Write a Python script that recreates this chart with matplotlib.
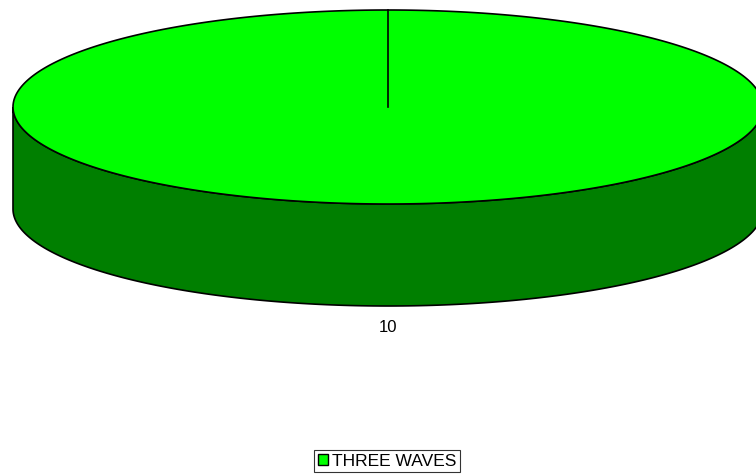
import numpy as np
import matplotlib
matplotlib.use('Agg')
import matplotlib.pyplot as plt
import matplotlib.patches as mpatches

labels = ['THREE WAVES']
values = [10]
top_colors = ['#00ff00']
side_colors = ['#007f00']

plt.rcParams['font.family'] = ['Liberation Sans', 'DejaVu Sans']

fig = plt.figure(figsize=(7.56, 4.74), dpi=100)
ax = fig.add_axes([0, 0, 1, 1])
ax.set_xlim(0, 756)
ax.set_ylim(474, 0)
ax.axis('off')

# pie geometry in pixels
cx, cy = 388, 107
rx, ry = 375, 97
depth = 102

total = float(sum(values))
start = 90.0
for val, lab, ctop, cside in zip(values, labels, top_colors, side_colors):
    sweep = 360.0 * val / total
    # side wall (front half only is visible)
    t = np.linspace(0, np.pi, 200)
    xs = cx + rx * np.cos(t)
    ys = cy + ry * np.sin(t)
    side_x = np.concatenate([xs, xs[::-1]])
    side_y = np.concatenate([ys, ys[::-1] + depth])
    ax.add_patch(mpatches.Polygon(np.column_stack([side_x, side_y]), closed=True,
                                  facecolor=cside, edgecolor='black', lw=1.2))
    # top face
    a = np.radians(np.linspace(start, start - sweep, 400))
    px = cx + rx * np.cos(a)
    py = cy - ry * np.sin(a)
    if sweep < 360:
        px = np.concatenate([[cx], px])
        py = np.concatenate([[cy], py])
    ax.add_patch(mpatches.Polygon(np.column_stack([px, py]), closed=True,
                                  facecolor=ctop, edgecolor='black', lw=1.2))
    # slice boundary from centre
    ax.plot([cx, cx + rx * np.cos(np.radians(start))],
            [cy, cy - ry * np.sin(np.radians(start))], color='black', lw=1.2)
    ax.text(cx, cy + ry + depth + 21, str(val), ha='center', va='center', fontsize=12)
    start -= sweep

handles = [mpatches.Patch(facecolor=c, edgecolor='black', label=l)
           for c, l in zip(top_colors, labels)]
leg = ax.legend(handles=handles, loc='center', bbox_to_anchor=(387 / 756, 1 - 461 / 474),
                fancybox=False, frameon=True, edgecolor='black', fontsize=12.5,
                handlelength=0.6, handleheight=0.6, handletextpad=0.2,
                borderpad=0.2, borderaxespad=0)
leg.get_frame().set_linewidth(0.8)

fig.savefig('out.png', dpi=100)
